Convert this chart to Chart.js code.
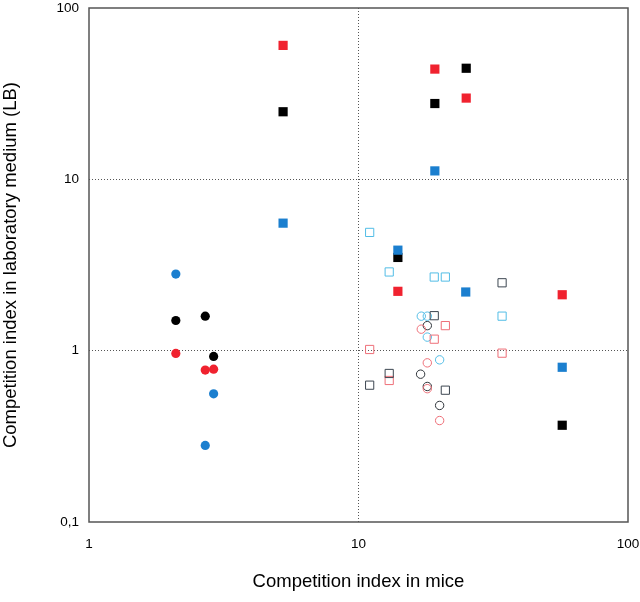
<!DOCTYPE html>
<html>
<head>
<meta charset="utf-8">
<script src="https://cdn.jsdelivr.net/npm/chart.js@4/dist/chart.umd.min.js"></script>
<style>
  html, body { margin: 0; padding: 0; background: #fff; }
</style>
</head>
<body>
<canvas id="grafico" width="640" height="602"></canvas>
<script>
// tick values and their printed labels
const xTicks = [1, 10, 100];
const xTickLabels = ['1', '10', '100'];
const yTicks = [0.1, 1, 10, 100];
const yTickLabels = ['0,1', '1', '10', '100'];

// filled squares [mice, LB]
const redSquares = [[5.25, 60.5], [19.2, 44], [25.1, 29.8], [14.0, 2.22], [57, 2.12]];
const blackSquares = [[5.25, 24.8], [25.1, 44.5], [19.2, 27.7], [14.0, 3.5], [57, 0.367]];
const blueSquares = [[5.25, 5.55], [19.2, 11.2], [14.0, 3.86], [25.0, 2.2], [57, 0.80]];

// filled circles
const redCircles = [[2.1, 0.963], [2.7, 0.77], [2.9, 0.78]];
const blackCircles = [[2.1, 1.5], [2.7, 1.59], [2.9, 0.925]];
const blueCircles = [[2.1, 2.8], [2.9, 0.56], [2.7, 0.28]];

// open squares
const cyanOpenSquares = [[11.0, 4.9], [13.0, 2.88], [19.1, 2.69], [21.0, 2.69], [34.1, 1.59]];
const greyOpenSquares = [[34.1, 2.49], [19.1, 1.6], [13.0, 0.736], [11.0, 0.629], [21.0, 0.588]];
const pinkOpenSquares = [[21.0, 1.4], [19.1, 1.167], [11.0, 1.016], [34.1, 0.967], [13.0, 0.67]];

// open circles
const cyanOpenCircles = [[17.1, 1.59], [18.0, 1.59], [18.0, 1.2], [20.0, 0.884]];
const pinkOpenCircles = [[17.1, 1.335], [18.0, 0.849], [18.0, 0.6], [20.0, 0.391]];
const greyOpenCircles = [[18.0, 1.4], [17.0, 0.729], [18.0, 0.618], [20.0, 0.479]];

const aPuntos = arr => arr.map(p => ({ x: p[0], y: p[1] }));

function serie(datos, color, forma, radio, relleno) {
    return {
        data: aPuntos(datos),
        pointStyle: forma,
        pointRadius: radio,
        pointHoverRadius: radio,
        backgroundColor: relleno ? color : 'rgba(0,0,0,0)',
        borderColor: color,
        borderWidth: relleno ? 0 : 1,
        showLine: false
    };
}

// marco completo alrededor del área del gráfico
const marco = {
    id: 'marco',
    afterDraw(chart) {
        const { ctx, chartArea: a } = chart;
        ctx.save();
        ctx.strokeStyle = '#555';
        ctx.lineWidth = 1.5;
        ctx.strokeRect(a.left, a.top, a.right - a.left, a.bottom - a.top);
        ctx.restore();
    }
};

const fuente = 'Liberation Sans, Arial, sans-serif';

const ctx = document.getElementById('grafico').getContext('2d');
new Chart(ctx, {
    type: 'scatter',
    data: {
        datasets: [
            serie(cyanOpenSquares, '#52bde6', 'rect', 5.8, false),
            serie(greyOpenSquares, '#3c4650', 'rect', 5.8, false),
            serie(pinkOpenSquares, '#ee6f78', 'rect', 5.8, false),
            serie(cyanOpenCircles, '#52bde6', 'circle', 4.2, false),
            serie(pinkOpenCircles, '#ee6f78', 'circle', 4.2, false),
            serie(greyOpenCircles, '#2e343a', 'circle', 4.2, false),
            serie(blueSquares, '#1b7fcf', 'rect', 6.5, true),
            serie(redSquares, '#f0222f', 'rect', 6.5, true),
            serie(blackSquares, '#000000', 'rect', 6.5, true),
            serie(blueCircles, '#1b7fcf', 'circle', 4.6, true),
            serie(redCircles, '#f0222f', 'circle', 4.6, true),
            serie(blackCircles, '#000000', 'circle', 4.6, true)
        ]
    },
    options: {
        responsive: false,
        animation: false,
        layout: { autoPadding: false, padding: 0 },
        plugins: {
            legend: { display: false },
            tooltip: { enabled: false }
        },
        scales: {
            x: {
                type: 'logarithmic',
                min: 1,
                max: 100,
                afterBuildTicks: s => { s.ticks = xTicks.map(v => ({ value: v })); },
                afterFit: s => { s.height = 80; s.paddingRight = 12; },
                grid: {
                    drawTicks: false,
                    color: c => (c.tick && c.tick.value === 10) ? '#555' : 'rgba(0,0,0,0)',
                    lineWidth: 1
                },
                border: { display: false, dash: [1, 2] },
                ticks: {
                    padding: 14,
                    color: '#000',
                    font: { family: fuente, size: 13.5 },
                    maxRotation: 0,
                    callback: (v) => xTickLabels[xTicks.indexOf(v)]
                },
                title: {
                    display: true,
                    text: 'Competition index in mice',
                    color: '#000',
                    font: { family: fuente, size: 18.5 },
                    padding: { top: 0, bottom: 9 }
                }
            },
            y: {
                type: 'logarithmic',
                min: 0.1,
                max: 100,
                afterBuildTicks: s => { s.ticks = yTicks.map(v => ({ value: v })); },
                afterFit: s => { s.width = 89; s.paddingTop = 8; },
                grid: {
                    drawTicks: false,
                    color: c => (c.tick && (c.tick.value === 1 || c.tick.value === 10)) ? '#555' : 'rgba(0,0,0,0)',
                    lineWidth: 1
                },
                border: { display: false, dash: [1, 2] },
                ticks: {
                    padding: 10,
                    color: '#000',
                    font: { family: fuente, size: 13.5 },
                    callback: (v) => yTickLabels[yTicks.indexOf(v)]
                },
                title: {
                    display: true,
                    text: 'Competition index in laboratory medium (LB)',
                    color: '#000',
                    font: { family: fuente, size: 18.5 },
                    padding: { top: 0, bottom: 0 }
                }
            }
        }
    },
    plugins: [marco]
});
</script>
</body>
</html>
